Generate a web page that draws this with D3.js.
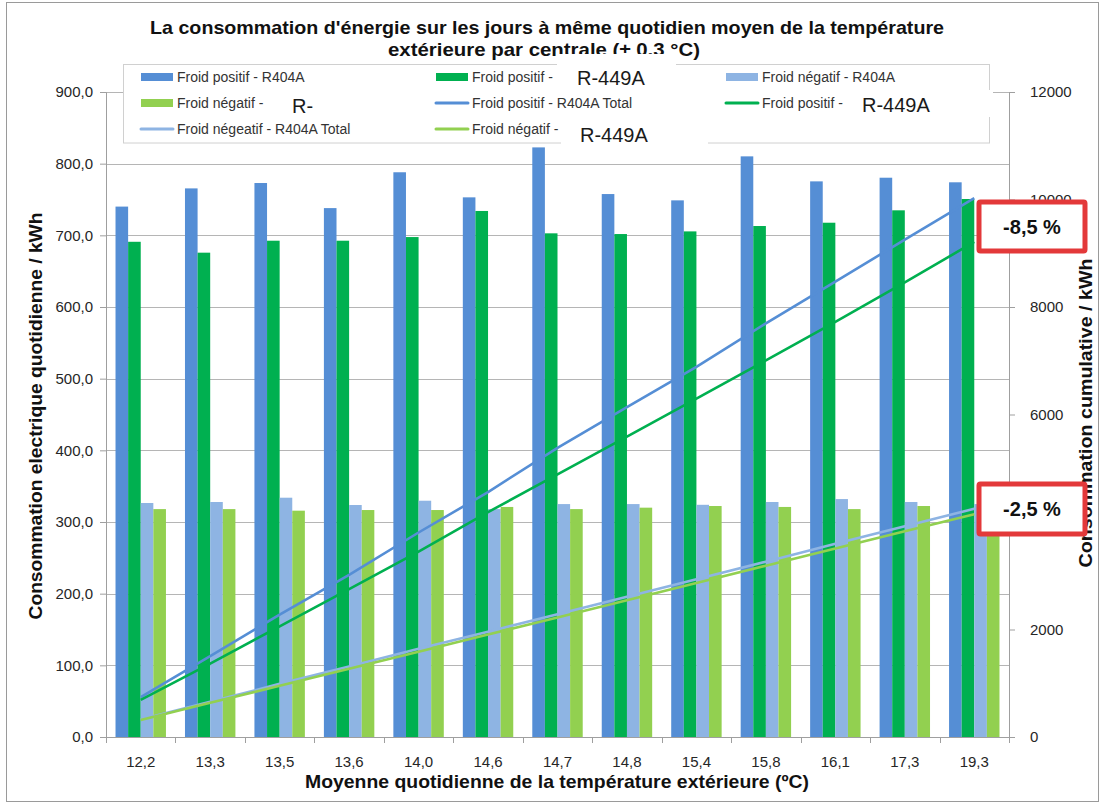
<!DOCTYPE html>
<html>
<head>
<meta charset="utf-8">
<script src="https://cdn.jsdelivr.net/npm/d3@7"></script>
<style>
  html, body { margin: 0; padding: 0; background: #fff; }
  svg { display: block; }
  text { font-family: "Liberation Sans", Arial, sans-serif; }
</style>
</head>
<body>
<svg id="chart" width="1103" height="805"></svg>
<script>
// Mean daily outdoor temperature (°C), one group per day class
const temperatures = ["12,2", "13,3", "13,5", "13,6", "14,0", "14,6", "14,7", "14,8", "15,4", "15,8", "16,1", "17,3", "19,3"];

// Daily electricity use (kWh) per plant
const positifR404A = [740.1, 765.5, 773.0, 738.0, 788.0, 753.0, 822.7, 757.6, 748.8, 810.2, 775.3, 780.4, 774.0];
const positifR449A = [691.0, 675.8, 692.5, 692.5, 697.6, 734.0, 702.8, 701.8, 705.5, 713.0, 717.6, 734.9, 750.7];
const negatifR404A = [326.5, 327.9, 333.9, 323.7, 329.7, 318.0, 325.0, 325.0, 324.0, 327.9, 332.0, 327.9, 325.0];
const negatifR449A = [318.0, 318.0, 315.8, 316.7, 316.7, 321.0, 318.0, 320.0, 322.3, 321.0, 318.0, 322.3, 318.0];

// Running totals (kWh) of the same series
const positifR404ATotal = [740.1, 1505.6, 2278.6, 3016.6, 3804.6, 4557.6, 5380.3, 6137.9, 6886.7, 7696.9, 8472.2, 9252.6, 10026.6];
const positifR449ATotal = [691.0, 1366.8, 2059.3, 2751.8, 3449.4, 4183.4, 4886.2, 5588.0, 6293.5, 7006.5, 7724.1, 8459.0, 9209.7];
const negatifR404ATotal = [326.5, 654.4, 988.3, 1312.0, 1641.7, 1959.7, 2284.7, 2609.7, 2933.7, 3261.6, 3593.6, 3921.5, 4246.5];
const negatifR449ATotal = [318.0, 636.0, 951.8, 1268.5, 1585.2, 1906.2, 2224.2, 2544.2, 2866.5, 3187.5, 3505.5, 3827.8, 4145.8];

// Axis ticks
const leftTicks = [0, 100, 200, 300, 400, 500, 600, 700, 800, 900];
const rightTicks = [0, 2000, 4000, 6000, 8000, 10000, 12000];

// Legend entries (visible label text) and savings callouts
const legendLabels = [
  "Froid positif - R404A", "Froid positif - ", "Froid négatif - R404A",
  "Froid négatif - ", "Froid positif - R404A Total", "Froid positif - ",
  "Froid négeatif - R404A Total", "Froid négatif - "
];
const callouts = ["-8,5 %", "-2,5 %"];

const C = { pos404: "#558ED5", pos449: "#00B050", neg404: "#8EB4E3", neg449: "#92D050" };

const barSeries = [
  { values: positifR404A, color: C.pos404 },
  { values: positifR449A, color: C.pos449 },
  { values: negatifR404A, color: C.neg404 },
  { values: negatifR449A, color: C.neg449 }
];
const lineSeries = [
  { values: positifR404ATotal, color: C.pos404 },
  { values: positifR449ATotal, color: C.pos449 },
  { values: negatifR404ATotal, color: C.neg404 },
  { values: negatifR449ATotal, color: C.neg449 }
];

const svg = d3.select("#chart");
const plot = { left: 106, right: 1009, top: 92, bottom: 737 };

// Outer frame
svg.append("rect").attr("x", 6.5).attr("y", 2.5).attr("width", 1092).attr("height", 799)
  .attr("fill", "#fff").attr("stroke", "#9a9a9a").attr("stroke-width", 1);

const x = d3.scaleBand().domain(temperatures).range([plot.left, plot.right]).paddingInner(0).paddingOuter(0);
const xSub = d3.scaleBand().domain(d3.range(barSeries.length))
  .range([x.bandwidth() * 0.137, x.bandwidth() * 0.863]).padding(0);
const yL = d3.scaleLinear().domain([0, 900]).range([plot.bottom, plot.top]);
const yR = d3.scaleLinear().domain([0, 12000]).range([plot.bottom, plot.top]);

// Gridlines
svg.append("g").selectAll("line").data(leftTicks.filter(d => d > 0)).join("line")
  .attr("x1", plot.left).attr("x2", plot.right)
  .attr("y1", d => Math.round(yL(d)) + 0.5).attr("y2", d => Math.round(yL(d)) + 0.5)
  .attr("stroke", "#b5b5b5").attr("stroke-width", 1);

// Bars
const groups = svg.append("g").selectAll("g").data(temperatures).join("g")
  .attr("transform", d => `translate(${x(d)},0)`);
groups.selectAll("rect")
  .data((d, i) => barSeries.map((s, k) => ({ k, v: s.values[i], color: s.color })))
  .join("rect")
  .attr("x", d => xSub(d.k))
  .attr("width", xSub.bandwidth())
  .attr("y", d => yL(d.v))
  .attr("height", d => yL(0) - yL(d.v))
  .attr("fill", d => d.color);

// Cumulative lines
const line = d3.line().x((d, i) => x(temperatures[i]) + x.bandwidth() / 2).y(d => yR(d));
svg.append("g").selectAll("path").data(lineSeries).join("path")
  .attr("d", d => line(d.values))
  .attr("fill", "none").attr("stroke", d => d.color).attr("stroke-width", 2.6);

// Axes
const axisColor = "#9f9f9f";
const gLeft = svg.append("g").attr("transform", `translate(${plot.left},0)`)
  .call(d3.axisLeft(yL).tickValues(leftTicks).tickSize(6).tickPadding(7)
    .tickFormat(d => d3.format(".1f")(d).replace(".", ",")));
const gRight = svg.append("g").attr("transform", `translate(${plot.right},0)`)
  .call(d3.axisRight(yR).tickValues(rightTicks).tickSize(6).tickPadding(15).tickFormat(d3.format("d")));
const gBottom = svg.append("g").attr("transform", `translate(0,${plot.bottom})`)
  .call(d3.axisBottom(x).tickSize(0).tickPadding(19));
// Category boundary ticks on the x axis
svg.append("g").selectAll("line").data(d3.range(temperatures.length + 1)).join("line")
  .attr("x1", i => Math.round(plot.left + i * x.step()) + 0.5)
  .attr("x2", i => Math.round(plot.left + i * x.step()) + 0.5)
  .attr("y1", plot.bottom).attr("y2", plot.bottom + 6)
  .attr("stroke", axisColor);

[gLeft, gRight, gBottom].forEach(g => {
  g.select(".domain").attr("stroke", axisColor);
  g.selectAll(".tick line").attr("stroke", axisColor);
  g.selectAll(".tick text").attr("fill", "#262626")
    .style("font-family", "'Liberation Sans', Arial, sans-serif").style("font-size", "15px");
});
gBottom.select(".domain").attr("d", `M${plot.left},0.5H${plot.right}`);

// Titles
const title = svg.append("g").attr("font-weight", "bold").attr("fill", "#111").attr("font-size", 19);
title.append("text").attr("x", 547).attr("y", 34).attr("text-anchor", "middle")
  .attr("textLength", 794).attr("lengthAdjust", "spacingAndGlyphs")
  .text("La consommation  d'énergie sur les jours à même quotidien moyen de la température");
title.append("text").attr("x", 544).attr("y", 56).attr("text-anchor", "middle")
  .attr("textLength", 312).attr("lengthAdjust", "spacingAndGlyphs")
  .text("extérieure par centrale (± 0.3 °C)");

svg.append("text").attr("transform", "translate(42,416) rotate(-90)")
  .attr("text-anchor", "middle").attr("font-weight", "bold").attr("font-size", 19).attr("fill", "#111")
  .attr("textLength", 407).attr("lengthAdjust", "spacingAndGlyphs")
  .text("Consommation electrique quotidienne / kWh");
svg.append("text").attr("transform", "translate(1092,413) rotate(-90)")
  .attr("text-anchor", "middle").attr("font-weight", "bold").attr("font-size", 19).attr("fill", "#111")
  .attr("textLength", 309).attr("lengthAdjust", "spacingAndGlyphs")
  .text("Consommation  cumulative / kWh");
svg.append("text").attr("x", 557).attr("y", 788)
  .attr("text-anchor", "middle").attr("font-weight", "bold").attr("font-size", 19).attr("fill", "#111")
  .attr("textLength", 504).attr("lengthAdjust", "spacingAndGlyphs")
  .text("Moyenne quotidienne de la température extérieure (ºC)");

// Legend
const legend = svg.append("g");
legend.append("rect").attr("x", 123.5).attr("y", 64.5).attr("width", 866).attr("height", 78.5)
  .attr("fill", "#fff").attr("stroke", "#d0d0d0");
const legendItems = [
  { type: "bar", color: C.pos404 }, { type: "bar", color: C.pos449 }, { type: "bar", color: C.neg404 },
  { type: "bar", color: C.neg449 }, { type: "line", color: C.pos404 }, { type: "line", color: C.pos449 },
  { type: "line", color: C.neg404 }, { type: "line", color: C.neg449 }
];
const colX = [141, 436, 726], rowY = [77, 103, 129];
legendItems.forEach((it, i) => {
  const cx = colX[i % 3], cy = rowY[Math.floor(i / 3)];
  if (it.type === "bar") {
    legend.append("rect").attr("x", cx).attr("y", cy - 4).attr("width", 32).attr("height", 8).attr("fill", it.color);
  } else {
    legend.append("line").attr("x1", cx).attr("x2", cx + 32).attr("y1", cy).attr("y2", cy)
      .attr("stroke", it.color).attr("stroke-width", 3).attr("stroke-linecap", "round");
  }
  legend.append("text").attr("x", cx + 36).attr("y", cy + 5).attr("font-size", 14).attr("fill", "#333")
    .text(legendLabels[i]);
});

// Refrigerant name patches laid over the legend
const patches = [
  { x: 557, y: 54, w: 119, h: 42, tx: 577, ty: 85, text: "R-449A" },
  { x: 274, y: 91, w: 98, h: 25, tx: 292, ty: 113, text: "R-" },
  { x: 848, y: 90, w: 145, h: 27, tx: 862, ty: 112, text: "R-449A" },
  { x: 561, y: 117, w: 147, h: 29, tx: 580, ty: 142, text: "R-449A" }
];
const defs = svg.append("defs");
patches.forEach((p, i) => {
  defs.append("clipPath").attr("id", "patch" + i).append("rect")
    .attr("x", p.x).attr("y", p.y).attr("width", p.w).attr("height", p.h);
  const g = svg.append("g").attr("clip-path", `url(#patch${i})`);
  g.append("rect").attr("x", p.x).attr("y", p.y).attr("width", p.w).attr("height", p.h).attr("fill", "#fff");
  g.append("text").attr("x", p.tx).attr("y", p.ty).attr("font-size", 20).attr("fill", "#1a1a1a").text(p.text);
});

// Savings callouts
const boxes = [
  { x: 979, y: 202, w: 106, h: 49 },
  { x: 979, y: 484, w: 106, h: 50 }
];
boxes.forEach((b, i) => {
  svg.append("rect").attr("x", b.x).attr("y", b.y).attr("width", b.w).attr("height", b.h)
    .attr("fill", "#fff").attr("stroke", "#E3393A").attr("stroke-width", 5).attr("rx", 1.5);
  svg.append("text").attr("x", b.x + b.w / 2).attr("y", b.y + b.h / 2 + 7)
    .attr("text-anchor", "middle").attr("font-weight", "bold").attr("font-size", 20).attr("fill", "#111")
    .text(callouts[i]);
});
</script>
</body>
</html>
